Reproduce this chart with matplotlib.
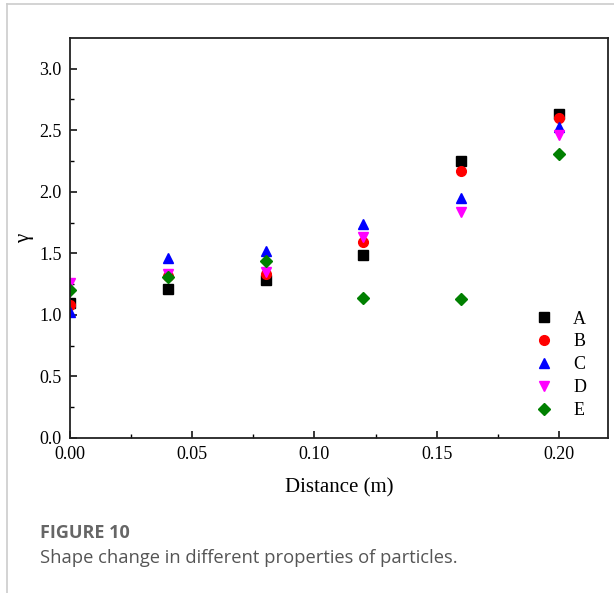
import matplotlib.pyplot as plt
from matplotlib.lines import Line2D

# данные
distance = [0.00, 0.04, 0.08, 0.12, 0.16, 0.20]
gamma_A = [1.10, 1.21, 1.28, 1.49, 2.25, 2.63]
gamma_B = [1.08, 1.32, 1.33, 1.59, 2.17, 2.60]
gamma_C = [1.02, 1.46, 1.52, 1.74, 1.95, 2.53]
gamma_D = [1.26, 1.33, 1.35, 1.63, 1.84, 2.46]
gamma_E = [1.20, 1.31, 1.44, 1.14, 1.13, 2.31]

series = [
    ('A', gamma_A, 's', 'black', 6.5),
    ('B', gamma_B, 'o', 'red', 7),
    ('C', gamma_C, '^', 'blue', 7.5),
    ('D', gamma_D, 'v', 'magenta', 7.5),
    ('E', gamma_E, 'D', 'green', 6.5),
]

serif = ['Liberation Serif', 'DejaVu Serif']

fig = plt.figure(figsize=(6.14, 5.93), dpi=100)
ax = fig.add_axes([0.114, 0.2614, 0.876, 0.6746])

for name, vals, mk, col, ms in series:
    ax.plot(distance, vals, linestyle='none', marker=mk, color=col,
            markersize=ms, label=name)

ax.set_xlim(0, 0.22)
ax.set_ylim(0, 3.25)
ax.set_xticks([0.00, 0.05, 0.10, 0.15, 0.20])
ax.set_xticks([0.025, 0.075, 0.125, 0.175], minor=True)
ax.set_yticks([0.0, 0.5, 1.0, 1.5, 2.0, 2.5, 3.0])
ax.set_yticks([0.25, 0.75, 1.25, 1.75, 2.25, 2.75], minor=True)
ax.set_xticklabels(['0.00', '0.05', '0.10', '0.15', '0.20'], family=serif, fontsize=13)
ax.set_yticklabels(['0.0', '0.5', '1.0', '1.5', '2.0', '2.5', '3.0'], family=serif, fontsize=13)
ax.tick_params(axis='x', which='major', direction='in', length=5, width=1.1, pad=6)
ax.tick_params(axis='y', which='major', direction='in', length=5, width=1.1, pad=6)
ax.tick_params(which='minor', direction='in', length=3, width=1.0)
for sp in ax.spines.values():
    sp.set_linewidth(1.3)
    sp.set_color('#222222')

ax.set_xlabel('Distance (m)', family=serif, fontsize=15, labelpad=11)
ax.set_ylabel('γ', family=serif, fontsize=15, labelpad=4)

leg = ax.legend(loc='lower right', frameon=False, prop={'family': serif, 'size': 13},
                handletextpad=1.1, labelspacing=0.33, borderaxespad=0.3,
                bbox_to_anchor=(0.983, 0.015), handlelength=1.0)

# подпись рисунка
fig.text(40 / 614, 1 - 533 / 593, 'FIGURE 10', family='Open Sans', fontweight='bold',
         fontsize=13, color='#666666', va='center', ha='left')
fig.text(40 / 614, 1 - 558 / 593, 'Shape change in different properties of particles.',
         family='Open Sans', fontsize=13.2, color='#555555', va='center', ha='left')

# серая рамка страницы
fig.add_artist(Line2D([7 / 614, 1], [1 - 4 / 593, 1 - 4 / 593], color='#cccccc', lw=1.2))
fig.add_artist(Line2D([7 / 614, 7 / 614], [0, 1 - 4 / 593], color='#cccccc', lw=1.2))

fig.savefig('out.png', dpi=100)
